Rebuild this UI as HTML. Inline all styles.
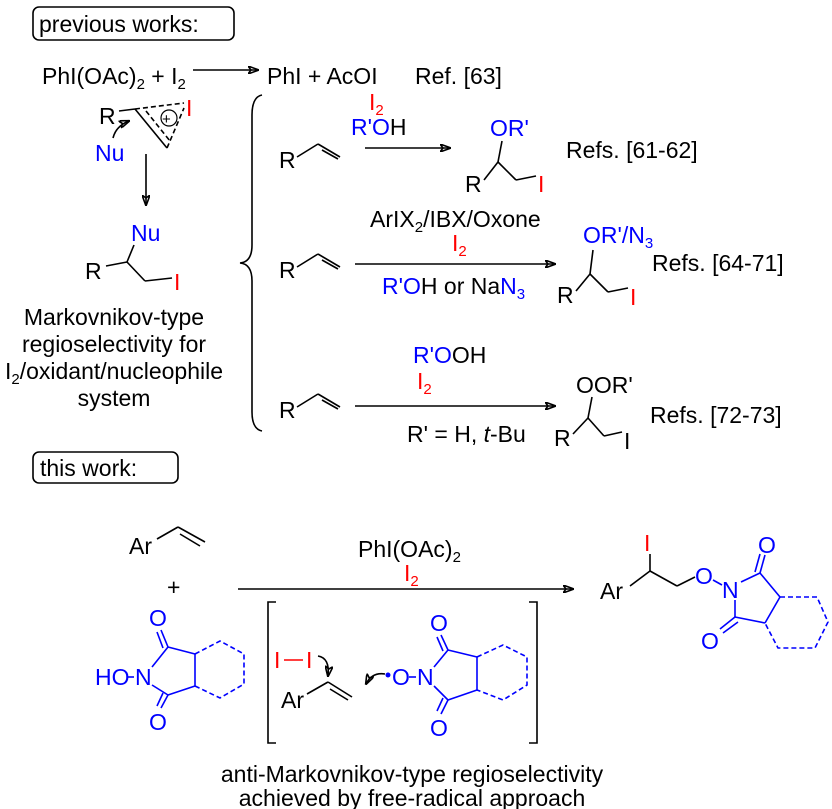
<!DOCTYPE html>
<html><head><meta charset="utf-8"><style>
html,body{margin:0;padding:0;background:#fff}
svg{display:block}
text{font-family:"Liberation Sans",sans-serif;font-size:23px;fill:#000}
.b{fill:#0000ff}.r{fill:#ff0000}
.s{font-size:15px}
line,path,polyline{stroke:#000;stroke-width:1.6;fill:none}
.bl{stroke:#0000ff}.rd{stroke:#ff0000}
.d{stroke-dasharray:5,3}
</style></head><body>
<svg width="832" height="809" viewBox="0 0 832 809">
<defs><marker id="a" markerWidth="11" markerHeight="8" refX="10" refY="4" orient="auto" markerUnits="userSpaceOnUse"><path d="M0,0 L11,4 L0,8 L3,4z" fill="#000" stroke="none"/></marker></defs>

<rect x="33" y="7" width="201" height="33" rx="6" fill="none" stroke="#000" stroke-width="1.6"/>
<text x="39" y="32">previous works:</text>
<text x="42" y="84">PhI(OAc)<tspan class="s" dy="5">2</tspan><tspan dy="-5"> + I</tspan><tspan class="s" dy="5">2</tspan></text>
<line x1="193" y1="70" x2="258" y2="70" marker-end="url(#a)"/>
<text x="267" y="84">PhI + AcOI</text>
<text x="415" y="84">Ref. [63]</text>

<!-- iodonium -->
<text x="99" y="124">R</text>
<line x1="119" y1="111" x2="135" y2="109"/>
<line x1="135" y1="109" x2="167" y2="148"/>
<line class="d" x1="135" y1="109" x2="184" y2="103"/>
<line class="d" x1="167" y1="148" x2="184" y2="108"/>
<line class="d" x1="146" y1="111" x2="170" y2="141"/>
<circle cx="169" cy="118" r="8" fill="none" stroke="#000" stroke-width="1.2"/>
<text x="162" y="124" style="font-size:15px">+</text>
<text x="186" y="116" class="r">I</text>
<path d="M113,138 Q116,126 129,121" marker-end="url(#a)"/>
<text x="95" y="161" class="b">Nu</text>
<line x1="146" y1="154" x2="146" y2="205" marker-end="url(#a)"/>
<text x="131" y="241" class="b">Nu</text>
<text x="85" y="279">R</text>
<line x1="106" y1="266" x2="127" y2="262"/>
<line x1="127" y1="262" x2="134" y2="245"/>
<line x1="127" y1="262" x2="145" y2="281"/>
<line x1="145" y1="281" x2="172" y2="278"/>
<text x="174" y="290" class="r">I</text>
<text x="114" y="325" text-anchor="middle">Markovnikov-type</text>
<text x="114" y="352" text-anchor="middle">regioselectivity for</text>
<text x="114" y="379" text-anchor="middle">I<tspan class="s" dy="5">2</tspan><tspan dy="-5">/oxidant/nucleophile</tspan></text>
<text x="114" y="406" text-anchor="middle">system</text>

<!-- brace -->
<path d="M262,95 Q252,97 252,115 L252,245 Q252,262 240,263 Q252,264 252,281 L252,412 Q252,429 262,431"/>

<!-- row1 -->
<text x="279" y="168">R</text>
<line x1="297" y1="157" x2="318" y2="144"/><line x1="318" y1="144" x2="340" y2="157"/><line x1="322" y1="150" x2="338" y2="159"/>
<text x="369" y="110" class="r">I<tspan class="s" dy="5">2</tspan></text>
<text x="351" y="135"><tspan class="b">R'O</tspan>H</text>
<line x1="365" y1="148" x2="450" y2="148" marker-end="url(#a)"/>
<text x="490" y="136" class="b">OR'</text>
<text x="465" y="192">R</text>
<line x1="484" y1="180" x2="498" y2="162"/><line x1="498" y1="162" x2="502" y2="141"/><line x1="498" y1="162" x2="516" y2="180"/><line x1="516" y1="180" x2="536" y2="176"/>
<text x="538" y="192" class="r">I</text>
<text x="566" y="158">Refs. [61-62]</text>

<!-- row2 -->
<text x="279" y="278">R</text>
<line x1="297" y1="267" x2="318" y2="254"/><line x1="318" y1="254" x2="340" y2="267"/><line x1="322" y1="260" x2="338" y2="269"/>
<text x="370" y="227">ArIX<tspan class="s" dy="5">2</tspan><tspan dy="-5">/IBX/Oxone</tspan></text>
<text x="452" y="251" class="r">I<tspan class="s" dy="5">2</tspan></text>
<line x1="355" y1="264" x2="555" y2="264" marker-end="url(#a)"/>
<text x="382" y="294"><tspan class="b">R'O</tspan>H or Na<tspan class="b">N</tspan><tspan class="b s" dy="5">3</tspan></text>
<text x="583" y="243" class="b">OR'/N<tspan class="s" dy="5">3</tspan></text>
<text x="557" y="303">R</text>
<line x1="576" y1="291" x2="590" y2="274"/><line x1="590" y1="274" x2="593" y2="250"/><line x1="590" y1="274" x2="608" y2="292"/><line x1="608" y1="292" x2="628" y2="288"/>
<text x="630" y="305" class="r">I</text>
<text x="652" y="271">Refs. [64-71]</text>

<!-- row3 -->
<text x="279" y="418">R</text>
<line x1="297" y1="407" x2="318" y2="394"/><line x1="318" y1="394" x2="340" y2="407"/><line x1="322" y1="400" x2="338" y2="409"/>
<text x="413" y="363"><tspan class="b">R'O</tspan>OH</text>
<text x="417" y="389" class="r">I<tspan class="s" dy="5">2</tspan></text>
<line x1="355" y1="406" x2="555" y2="406" marker-end="url(#a)"/>
<text x="407" y="442">R' = H, <tspan font-style="italic">t</tspan>-Bu</text>
<text x="576" y="393">OOR'</text>
<text x="554" y="446">R</text>
<line x1="573" y1="434" x2="588" y2="418"/><line x1="588" y1="418" x2="592" y2="397"/><line x1="588" y1="418" x2="604" y2="436"/><line x1="604" y1="436" x2="622" y2="432"/>
<text x="624" y="449">I</text>
<text x="650" y="423">Refs. [72-73]</text>

<!-- this work -->
<rect x="33" y="452" width="145" height="31" rx="6" fill="none" stroke="#000" stroke-width="1.6"/>
<text x="40" y="476">this work:</text>
<text x="129" y="554">Ar</text>
<line x1="157" y1="539" x2="178" y2="527"/><line x1="178" y1="527" x2="205" y2="542"/><line x1="180" y1="534" x2="200" y2="546"/>
<text x="167" y="595">+</text>
<text x="358" y="557">PhI(OAc)<tspan class="s" dy="5">2</tspan></text>
<text x="404" y="581" class="r">I<tspan class="s" dy="5">2</tspan></text>
<line x1="238" y1="589" x2="573" y2="589" marker-end="url(#a)"/>

<!-- NHPI -->
<text x="95" y="685" class="b">HO</text>
<line class="bl" x1="127" y1="677" x2="134" y2="677"/>
<text x="135" y="685" class="b">N</text>
<text x="149" y="626" class="b">O</text>
<line class="bl" x1="152" y1="667" x2="168" y2="647"/>
<line class="bl" x1="152" y1="685" x2="168" y2="695"/>
<line class="bl" x1="168" y1="647" x2="195" y2="654"/><line class="bl" x1="168" y1="695" x2="195" y2="686"/><line class="bl" x1="195" y1="654" x2="195" y2="686"/>
<line class="bl" x1="168" y1="647" x2="161" y2="630"/><line class="bl" x1="163" y1="648" x2="157" y2="632"/>
<line class="bl" x1="168" y1="695" x2="161" y2="708"/><line class="bl" x1="163" y1="693" x2="157" y2="706"/>
<polyline class="bl d" points="195,654 220,641 244,654 244,684 220,698 195,686"/>
<text x="149" y="730" class="b">O</text>

<!-- bracket -->
<polyline points="276,602 268,602 268,743 276,743"/>
<polyline points="529,602 537,602 537,743 529,743"/>
<text x="274" y="668" class="r">I</text><line class="rd" x1="284" y1="660" x2="303" y2="660"/><text x="306" y="668" class="r">I</text>
<path d="M318,656 Q330,658 328,676" marker-end="url(#a)"/>
<text x="281" y="708">Ar</text>
<line x1="307" y1="694" x2="328" y2="682"/><line x1="328" y1="682" x2="352" y2="697"/><line x1="330" y1="689" x2="348" y2="700"/>
<path d="M385,674 Q372,672 366,684" marker-end="url(#a)"/>
<circle cx="388" cy="675" r="2.5" fill="#0000ff" stroke="none"/>
<text x="392" y="685" class="b">O</text>
<line class="bl" x1="409" y1="677" x2="416" y2="677"/>
<text x="417" y="685" class="b">N</text>
<text x="430" y="631" class="b">O</text>
<line class="bl" x1="434" y1="667" x2="448" y2="650"/><line class="bl" x1="434" y1="686" x2="448" y2="700"/>
<line class="bl" x1="448" y1="650" x2="477" y2="657"/><line class="bl" x1="448" y1="700" x2="477" y2="690"/><line class="bl" x1="477" y1="657" x2="477" y2="690"/>
<line class="bl" x1="448" y1="650" x2="441" y2="635"/><line class="bl" x1="443" y1="651" x2="437" y2="637"/>
<line class="bl" x1="448" y1="700" x2="441" y2="714"/><line class="bl" x1="443" y1="698" x2="437" y2="711"/>
<text x="430" y="736" class="b">O</text>
<polyline class="bl d" points="477,657 503,645 527,657 527,685 503,700 477,690"/>

<!-- product -->
<text x="600" y="599">Ar</text>
<line x1="630" y1="586" x2="650" y2="571"/><line x1="650" y1="571" x2="650" y2="554"/><line x1="650" y1="571" x2="677" y2="586"/><line x1="677" y1="586" x2="695" y2="577"/>
<text x="644" y="551" class="r">I</text>
<text x="695" y="584" class="b">O</text>
<line class="bl" x1="713" y1="580" x2="722" y2="585"/>
<text x="722" y="598" class="b">N</text>
<line class="bl" x1="741" y1="582" x2="760" y2="573"/><line class="bl" x1="735" y1="600" x2="735" y2="617"/>
<line class="bl" x1="760" y1="573" x2="780" y2="597"/><line class="bl" x1="735" y1="617" x2="765" y2="623"/><line class="bl" x1="780" y1="597" x2="765" y2="623"/>
<line class="bl" x1="760" y1="573" x2="765" y2="555"/><line class="bl" x1="755" y1="572" x2="760" y2="554"/>
<line class="bl" x1="735" y1="617" x2="720" y2="629"/><line class="bl" x1="738" y1="622" x2="723" y2="633"/>
<text x="758" y="553" class="b">O</text>
<text x="701" y="649" class="b">O</text>
<polyline class="bl d" points="780,597 817,597 828,622 815,648 778,648 765,623"/>

<text x="412" y="782" text-anchor="middle">anti-Markovnikov-type regioselectivity</text>
<text x="412" y="806" text-anchor="middle">achieved by free-radical approach</text>
</svg>
</body></html>
